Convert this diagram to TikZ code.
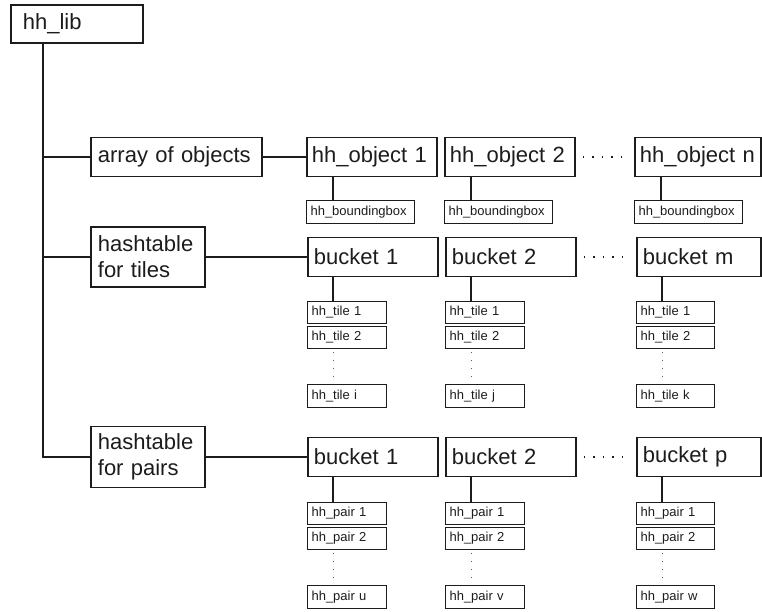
\documentclass[tikz,border=0pt]{standalone}
\usepackage{fontspec}
\setmainfont{Liberation Sans}
\usetikzlibrary{calc}
\definecolor{inkc}{RGB}{28,28,28}
\definecolor{dotc}{RGB}{90,90,90}
\begin{document}
\begin{tikzpicture}[x=1pt,y=-1pt,
  % large labelled box: #1 text width, #2 height, #3 side padding
  bigbox/.style n args={3}{draw=inkc, text=inkc, line width=1.8pt, anchor=west,
    text width=#1, minimum height=#2, inner xsep=#3, inner ysep=0pt, align=left,
    font=\fontsize{22}{26}\selectfont},
  % small entry box: #1 text width
  smallbox/.style={draw=inkc, text=inkc, line width=1.1pt, anchor=west,
    text width=#1, minimum height=22.5pt, inner xsep=4pt, inner ysep=0pt, align=left,
    font=\fontsize{13}{15}\selectfont},
  wire/.style={draw=inkc, line width=1.8pt},
  hdots/.style={draw=inkc, line width=1.6pt, dash pattern=on 1.6pt off 7.9pt},
  vdots/.style={draw=dotc, line width=1pt, dash pattern=on 1pt off 7pt}
]
\useasboundingbox (0,0) rectangle (762,611);

% root and its three members
\node[bigbox={108pt}{38pt}{12pt}] (lib) at (10,24) {hh\_lib};
\node[bigbox={157pt}{39pt}{7pt}] (arr) at (90,157) {array of objects};
\node[bigbox={100pt}{60pt}{7pt}] (htt) at (90,257) {hashtable\\for tiles};
\node[bigbox={100pt}{61pt}{7pt}] (htp) at (90,457) {hashtable\\for pairs};

% objects
\node[bigbox={120pt}{39pt}{5pt}] (o1) at (306,157) {hh\_object 1};
\node[bigbox={120pt}{39pt}{5pt}] (o2) at (444,157) {hh\_object 2};
\node[bigbox={116pt}{39pt}{5pt}] (on) at (634,157) {hh\_object n};
\node[smallbox=100pt] (bb1) at (306,212) {hh\_boundingbox};
\node[smallbox=100pt] (bb2) at (444,212) {hh\_boundingbox};
\node[smallbox=100pt] (bbn) at (634,212) {hh\_boundingbox};

% tile buckets
\node[bigbox={118pt}{39pt}{6pt}] (tb1) at (307,257) {bucket 1};
\node[bigbox={118pt}{39pt}{6pt}] (tb2) at (445,257) {bucket 2};
\node[bigbox={112pt}{39pt}{6pt}] (tbm) at (636,257) {bucket m};

\node[smallbox=71pt] (ta1) at (307,312.5) {hh\_tile 1};
\node[smallbox=71pt] (ta2) at (307,337.5) {hh\_tile 2};
\node[smallbox=71pt] (tai) at (307,396) {hh\_tile i};
\node[smallbox=71pt] (tb1a) at (445,312.5) {hh\_tile 1};
\node[smallbox=71pt] (tb2a) at (445,337.5) {hh\_tile 2};
\node[smallbox=71pt] (tbj) at (445,396) {hh\_tile j};
\node[smallbox=70pt] (tc1) at (636,312.5) {hh\_tile 1};
\node[smallbox=70pt] (tc2) at (636,337.5) {hh\_tile 2};
\node[smallbox=70pt] (tck) at (636,396) {hh\_tile k};

% pair buckets
\node[bigbox={118pt}{39pt}{6pt}] (pb1) at (307,457) {bucket 1};
\node[bigbox={118pt}{39pt}{6pt}] (pb2) at (445,457) {bucket 2};
\node[bigbox={112pt}{39pt}{6pt}] (pbp) at (636,457) {bucket p};

\node[smallbox=71pt] (pa1) at (307,513.5) {hh\_pair 1};
\node[smallbox=71pt] (pa2) at (307,538.5) {hh\_pair 2};
\node[smallbox=71pt] (pau) at (307,597) {hh\_pair u};
\node[smallbox=71pt] (pq1) at (445,513.5) {hh\_pair 1};
\node[smallbox=71pt] (pq2) at (445,538.5) {hh\_pair 2};
\node[smallbox=71pt] (pqv) at (445,597) {hh\_pair v};
\node[smallbox=70pt] (pc1) at (636,513.5) {hh\_pair 1};
\node[smallbox=70pt] (pc2) at (636,538.5) {hh\_pair 2};
\node[smallbox=70pt] (pcw) at (636,597) {hh\_pair w};

% trunk from the root
\coordinate (trunk) at ($(lib.south west)+(33,0)$);
\draw[wire] (trunk) |- (htp.west);
\draw[wire] (trunk |- arr.west) -- (arr.west);
\draw[wire] (trunk |- htt.west) -- (htt.west);

% members to their first element
\draw[wire] (arr.east) -- (o1.west);
\draw[wire] (htt.east) -- (tb1.west);
\draw[wire] (htp.east) -- (pb1.west);

% bounding boxes under objects
\foreach \o/\b in {o1/bb1, o2/bb2, on/bbn}{
  \coordinate (k) at ($(\b.north west)+(27,0)$);
  \draw[wire] (k |- \o.south) -- (k);
}

% bucket chains
\foreach \bk/\f/\s/\l in {tb1/ta1/ta2/tai, tb2/tb1a/tb2a/tbj, tbm/tc1/tc2/tck,
                          pb1/pa1/pa2/pau, pb2/pq1/pq2/pqv, pbp/pc1/pc2/pcw}{
  \coordinate (k) at ($(\f.north west)+(26,0)$);
  \draw[wire] (k |- \bk.south) -- (k);
  \draw[vdots] ($(k |- \s.south)+(0,3)$) -- ($(k |- \l.north)+(0,-4)$);
}

% ellipses between the second and last columns
\draw[hdots] ($(o2.east)+(7,0)$) -- ($(on.west)+(-8,0)$);
\draw[hdots] ($(tb2.east)+(7,0)$) -- ($(tbm.west)+(-8,0)$);
\draw[hdots] ($(pb2.east)+(7,0)$) -- ($(pbp.west)+(-8,0)$);
\end{tikzpicture}
\end{document}
